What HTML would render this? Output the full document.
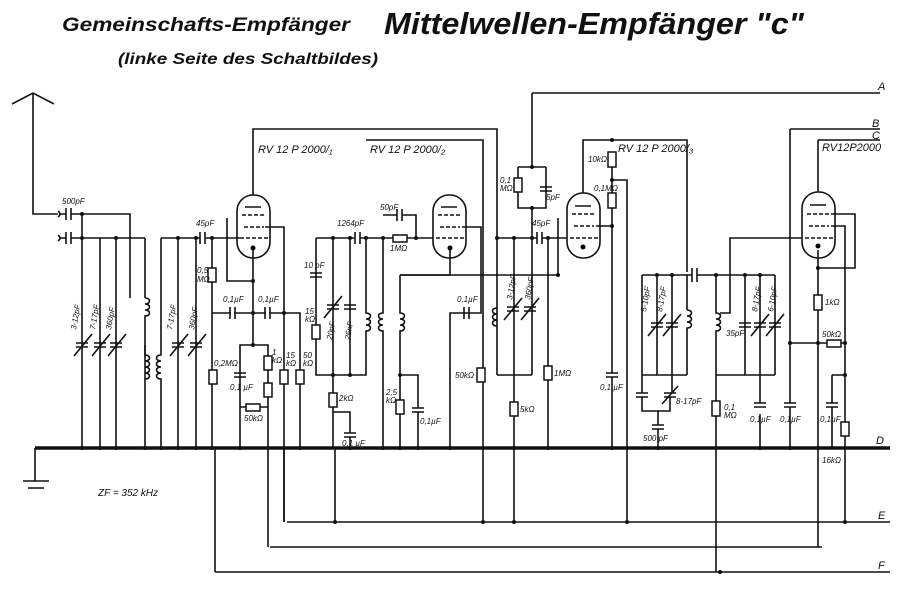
<!DOCTYPE html>
<html><head><meta charset="utf-8"><style>
html,body{margin:0;padding:0;background:#fff}
svg{display:block}
text{font-family:"Liberation Sans",sans-serif;font-style:italic;fill:#111}
.l{stroke:#111;stroke-width:1.6;fill:none}
.b{stroke:#111;stroke-width:3.4;fill:none}
.r{stroke:#111;stroke-width:1.5;fill:#fff}
.s{font-size:8px}
</style></head><body>
<svg width="900" height="589" viewBox="0 0 900 589" xmlns="http://www.w3.org/2000/svg">
<text x="62" y="31" style="font-size:19px;font-weight:bold" textLength="288" lengthAdjust="spacingAndGlyphs">Gemeinschafts-Empfänger</text>
<text x="384" y="34" style="font-size:31px;font-weight:bold" textLength="420" lengthAdjust="spacingAndGlyphs">Mittelwellen-Empfänger "c"</text>
<text x="118" y="64" style="font-size:16px;font-weight:bold" textLength="260" lengthAdjust="spacingAndGlyphs">(linke Seite des Schaltbildes)</text>

<!-- bus lines -->
<path class="b" d="M35 448H890"/>
<path class="l" d="M35 448V481M23 481H49M28 488H44"/>
<path class="l" d="M287 522H890M270 547H822M215 572H890"/>
<path class="l" d="M532 93H880M790 129H880M818 140H880"/>
<text x="878" y="90" style="font-size:11px">A</text>
<text x="872" y="127" style="font-size:11px">B</text>
<text x="872" y="139" style="font-size:11px">C</text>
<text x="876" y="444" style="font-size:11px">D</text>
<text x="878" y="519" style="font-size:11px">E</text>
<text x="878" y="569" style="font-size:11px">F</text>
<text x="98" y="496" style="font-size:10px">ZF = 352 kHz</text>

<!-- antenna -->
<path class="l" d="M12 104L33 93L54 104M33 93V214H58"/>
<path class="l" d="M58 211q4 3 0 6M58 235q4 3 0 6M60 214H66M60 238H66M66 208V220M71 208V220M66 232V244M71 232V244M71 214H130V298M71 238H145"/>
<text x="62" y="204" class="s">500pF</text>
<path class="l" d="M82 214V448M100 238V448M116 238V448M145 238V298M145 345V448"/>
<g class="l">
<path d="M76 343H88M76 347H88M74 356L92 334"/><path d="M94 343H106M94 347H106M92 356L110 334"/><path d="M110 343H122M110 347H122M108 356L126 334"/>
<path d="M172 343H184M172 347H184M170 356L188 334"/><path d="M190 343H202M190 347H202M188 356L206 334"/>
</g>
<text x="76" y="330" class="s" transform="rotate(-80 76 330)">3-12pF</text>
<text x="95" y="330" class="s" transform="rotate(-80 95 330)">7-17pF</text>
<text x="111" y="330" class="s" transform="rotate(-80 111 330)">360pF</text>
<text x="172" y="330" class="s" transform="rotate(-80 172 330)">7-17pF</text>
<text x="194" y="330" class="s" transform="rotate(-80 194 330)">360pF</text>
<path class="l" d="M145 298c6 0 6 6 0 6c6 0 6 6 0 6c6 0 6 6 0 6V355c6 0 6 6 0 6c6 0 6 6 0 6c6 0 6 6 0 6c6 0 6 6 0 6"/>
<path class="l" d="M161 238V355c-6 0-6 6 0 6c-6 0-6 6 0 6c-6 0-6 6 0 6c-6 0-6 6 0 6V448"/>
<path class="l" d="M161 238H200M178 238V448M196 238V448M200 232V244M205 232V244M205 238H240"/>
<text x="196" y="226" class="s">45pF</text>

<g class="l">
<rect x="237" y="195" width="33" height="63" rx="16"/>
<rect x="433" y="195" width="33" height="63" rx="16"/>
<rect x="567" y="193" width="33" height="65" rx="16"/>
<rect x="802" y="192" width="33" height="66" rx="16"/>
</g>
<g class="l" stroke-dasharray="4 2">
<path d="M242 215H266M244 227H264M240 238H268"/>
<path d="M438 215H462M440 227H460M436 238H464"/>
<path d="M572 214H596M574 226H594M570 238H598"/>
<path d="M807 214H831M809 226H829M805 238H833"/>
</g>
<path class="l" d="M245 207H261M441 207H457M575 206H591M810 205H826"/>
<circle cx="253" cy="248" r="2.5"/><circle cx="450" cy="248" r="2.5"/><circle cx="583" cy="247" r="2.5"/><circle cx="818" cy="246" r="2.5"/>
<text x="258" y="153" style="font-size:11px">RV 12 P 2000/₁</text>
<text x="370" y="153" style="font-size:11px">RV 12 P 2000/₂</text>
<text x="618" y="152" style="font-size:11px">RV 12 P 2000/₃</text>
<text x="822" y="151" style="font-size:11px">RV12P2000</text>

<path class="l" d="M253 195V129H497V375M227 218V281H253M253 250V345M265 227H284V522M212 238V448M212 313H300V448M253 345H240V448M253 345H268V448"/>
<rect class="r" x="208" y="268" width="8" height="14"/><text x="197" y="273" class="s">0,5</text><text x="197" y="282" class="s">MΩ</text>
<path class="l" d="M230 307V319M235 307V319M265 307V319M270 307V319"/><path d="M231 307h3v12h-3zM266 307h3v12h-3z" fill="#fff"/>
<text x="223" y="302" class="s">0,1µF</text><text x="258" y="302" class="s">0,1µF</text>
<rect class="r" x="209" y="370" width="8" height="14"/><text x="214" y="366" class="s">0,2MΩ</text>
<rect class="r" x="264" y="356" width="8" height="14"/><rect class="r" x="264" y="383" width="8" height="14"/><text x="272" y="355" class="s">1</text><text x="272" y="363" class="s">kΩ</text>
<path class="l" d="M234 373H246M234 377H246"/><text x="230" y="390" class="s">0,1 µF</text>
<path class="l" d="M240 407H268"/><rect class="r" x="246" y="404" width="14" height="7"/><text x="244" y="421" class="s">50kΩ</text>
<rect class="r" x="280" y="370" width="8" height="14"/><rect class="r" x="296" y="370" width="8" height="14"/>
<text x="286" y="358" class="s">15</text><text x="286" y="366" class="s">kΩ</text><text x="303" y="358" class="s">50</text><text x="303" y="366" class="s">kΩ</text>
<path class="l" d="M268 448V547M215 448V572M284 448V522"/>

<path class="l" d="M316 238H355M316 238V375H366V338M333 238V448M350 238V375M360 238H383M355 232V244M360 232V244"/>
<path d="M356 232h3v12h-3z" fill="#fff"/>
<text x="337" y="226" class="s">1264pF</text>
<path class="l" d="M310 273H322M310 277H322"/><text x="304" y="268" class="s">10 pF</text>
<rect class="r" x="312" y="325" width="8" height="14"/><text x="305" y="314" class="s">15</text><text x="305" y="322" class="s">kΩ</text>
<path class="l" d="M327 305H339M327 309H339M324 318L342 296M344 305H356M344 309H356"/>
<text x="332" y="340" class="s" transform="rotate(-80 332 340)">20pF</text><text x="350" y="340" class="s" transform="rotate(-80 350 340)">26nF</text>
<path class="l" d="M366 238V313c6 0 6 6 0 6c6 0 6 6 0 6c6 0 6 6 0 6V338"/>
<path class="l" d="M383 238V313c-6 0-6 6 0 6c-6 0-6 6 0 6c-6 0-6 6 0 6V448"/>
<rect class="r" x="329" y="393" width="8" height="14"/><text x="339" y="401" class="s">2kΩ</text>
<path class="l" d="M333 412H350V433M344 433H356M344 437H356M350 437V448M335 448V522"/>
<text x="342" y="446" class="s">0,1 µF</text>
<path class="l" d="M383 215H397M402 215H416V238M383 238H393M407 238H433M397 209V221M402 209V221"/>
<rect class="r" x="393" y="235" width="14" height="7"/><text x="380" y="210" class="s">50pF</text><text x="390" y="251" class="s">1MΩ</text>
<path class="l" d="M450 250V275H400M400 275V313c6 0 6 6 0 6c6 0 6 6 0 6c6 0 6 6 0 6V448M400 375H418V408M412 408H424M412 412H424M418 412V448"/>
<rect class="r" x="396" y="400" width="8" height="14"/><text x="386" y="395" class="s">2,5</text><text x="386" y="403" class="s">kΩ</text><text x="420" y="424" class="s">0,1µF</text>
<path class="l" d="M462 227H481V313H450V448M366 140H483V522"/>
<path class="l" d="M464 307V319M469 307V319"/><text x="457" y="302" class="s">0,1µF</text>
<rect class="r" x="477" y="368" width="8" height="14"/><text x="455" y="378" class="s">50kΩ</text>

<path class="l" d="M497 238H537M542 238H567M537 232V244M542 232V244M532 93V167M518 167H546M518 167V208H546V167M532 208V238"/>
<rect class="r" x="514" y="178" width="8" height="14"/><path class="l" d="M540 187H552M540 191H552"/>
<text x="500" y="183" class="s">0,1</text><text x="500" y="191" class="s">MΩ</text><text x="546" y="200" class="s">5pF</text><text x="532" y="226" class="s">45pF</text>
<path class="l" d="M497 308c-6 0-6 6 0 6c-6 0-6 6 0 6c-6 0-6 6 0 6"/>
<path class="l" d="M497 375H532M514 238V448M514 448V522M532 238V375M548 238V448"/>
<path class="l" d="M507 307H519M507 311H519M504 320L522 298M524 307H536M524 311H536M521 320L539 298"/>
<text x="512" y="300" class="s" transform="rotate(-80 512 300)">3-12pF</text><text x="530" y="300" class="s" transform="rotate(-80 530 300)">360pF</text>
<rect class="r" x="510" y="402" width="8" height="14"/><text x="520" y="412" class="s">5kΩ</text>
<rect class="r" x="544" y="366" width="8" height="14"/><text x="554" y="376" class="s">1MΩ</text>
<path class="l" d="M558 218H558V275M558 275H400M596 226H612M583 193V140H687V272"/>
<rect class="r" x="608" y="152" width="8" height="15"/><text x="588" y="162" class="s">10kΩ</text>
<rect class="r" x="608" y="193" width="8" height="15"/><text x="594" y="191" class="s">0,1MΩ</text>
<path class="l" d="M612 167V193M612 208V373M606 373H618M606 377H618M612 377V448M612 180H627V522"/>
<text x="600" y="390" class="s">0,1 µF</text>
<path class="l" d="M642 275H692M697 275H775M692 268V282M697 268V282M642 275V393M657 275V375M672 275V393M687 275V310M687 338V375M642 375H687"/>
<path class="l" d="M687 310c6 0 6 6 0 6c6 0 6 6 0 6c6 0 6 6 0 6V338"/>
<path class="l" d="M651 323H663M651 327H663M648 336L666 314M666 323H678M666 327H678M663 336L681 314M636 393H648M636 397H648M664 393H676M664 397H676M662 404L678 386M642 397V411H670V397M658 411V425M652 425H664M652 429H664M658 429V448"/>
<text x="646" y="312" class="s" transform="rotate(-80 646 312)">5-10pF</text><text x="662" y="312" class="s" transform="rotate(-80 662 312)">8-17pF</text>
<text x="676" y="404" class="s">8-17pF</text><text x="643" y="441" class="s">500 pF</text>
<path class="l" d="M716 275V313c6 0 6 6 0 6c6 0 6 6 0 6c6 0 6 6 0 6V448M716 448V572M716 375H775M745 275V375M760 275V403M775 275V375M760 414V448"/>
<path class="l" d="M739 323H751M739 327H751M754 323H766M754 327H766M751 336L769 314M769 323H781M769 327H781M766 336L784 314"/>
<text x="726" y="336" class="s">35pF</text><text x="757" y="312" class="s" transform="rotate(-80 757 312)">8-17pF</text><text x="773" y="312" class="s" transform="rotate(-80 773 312)">6-10pF</text>
<rect class="r" x="712" y="401" width="8" height="15"/><text x="724" y="410" class="s">0,1</text><text x="724" y="418" class="s">MΩ</text>
<path class="l" d="M754 403H766M754 407H766M784 403H796M784 407H796M790 129V403M790 407V448"/>
<text x="750" y="422" class="s">0,1µF</text><text x="780" y="422" class="s">0,1µF</text>
<path class="l" d="M720 313H730V238H802M818 192V140M818 250V295M818 310V448M818 448V547M831 214H855V268H818M831 226H845V448V522M790 343H828M839 343H845M832 375H845M832 375V403M826 403H838M826 407H838M832 407V448"/>
<rect class="r" x="814" y="295" width="8" height="15"/><text x="825" y="305" class="s">1kΩ</text>
<rect class="r" x="827" y="340" width="14" height="7"/><text x="822" y="337" class="s">50kΩ</text>
<rect class="r" x="841" y="422" width="8" height="14"/><text x="820" y="422" class="s">0,1µF</text><text x="822" y="463" class="s">16kΩ</text>

<g fill="#111">
<circle cx="82" cy="448" r="2"/><circle cx="100" cy="448" r="2"/><circle cx="116" cy="448" r="2"/><circle cx="145" cy="448" r="2"/><circle cx="161" cy="448" r="2"/><circle cx="178" cy="448" r="2"/><circle cx="196" cy="448" r="2"/><circle cx="212" cy="448" r="2"/><circle cx="240" cy="448" r="2"/><circle cx="300" cy="448" r="2"/><circle cx="350" cy="448" r="2"/><circle cx="383" cy="448" r="2"/><circle cx="400" cy="448" r="2"/><circle cx="418" cy="448" r="2"/><circle cx="450" cy="448" r="2"/><circle cx="514" cy="448" r="2"/><circle cx="548" cy="448" r="2"/><circle cx="612" cy="448" r="2"/><circle cx="658" cy="448" r="2"/><circle cx="760" cy="448" r="2"/><circle cx="790" cy="448" r="2"/><circle cx="818" cy="448" r="2"/>
<circle cx="82" cy="214" r="2"/><circle cx="82" cy="238" r="2"/><circle cx="116" cy="238" r="2"/><circle cx="178" cy="238" r="2"/><circle cx="196" cy="238" r="2"/><circle cx="212" cy="238" r="2"/><circle cx="253" cy="281" r="2"/><circle cx="253" cy="313" r="2"/><circle cx="284" cy="313" r="2"/><circle cx="253" cy="345" r="2"/><circle cx="333" cy="238" r="2"/><circle cx="350" cy="238" r="2"/><circle cx="366" cy="238" r="2"/><circle cx="383" cy="238" r="2"/><circle cx="416" cy="238" r="2"/><circle cx="400" cy="375" r="2"/><circle cx="333" cy="375" r="2"/><circle cx="350" cy="375" r="2"/><circle cx="497" cy="238" r="2"/><circle cx="514" cy="238" r="2"/><circle cx="532" cy="238" r="2"/><circle cx="548" cy="238" r="2"/><circle cx="558" cy="275" r="2"/><circle cx="612" cy="140" r="2"/><circle cx="612" cy="180" r="2"/><circle cx="612" cy="226" r="2"/><circle cx="532" cy="167" r="2"/><circle cx="532" cy="208" r="2"/><circle cx="657" cy="275" r="2"/><circle cx="672" cy="275" r="2"/><circle cx="716" cy="275" r="2"/><circle cx="745" cy="275" r="2"/><circle cx="760" cy="275" r="2"/><circle cx="818" cy="268" r="2"/><circle cx="818" cy="343" r="2"/><circle cx="845" cy="343" r="2"/><circle cx="845" cy="375" r="2"/><circle cx="790" cy="343" r="2"/>
<circle cx="335" cy="522" r="2"/><circle cx="483" cy="522" r="2"/><circle cx="514" cy="522" r="2"/><circle cx="627" cy="522" r="2"/><circle cx="845" cy="522" r="2"/><circle cx="720" cy="572" r="2"/>
</g>
</svg>
</body></html>
